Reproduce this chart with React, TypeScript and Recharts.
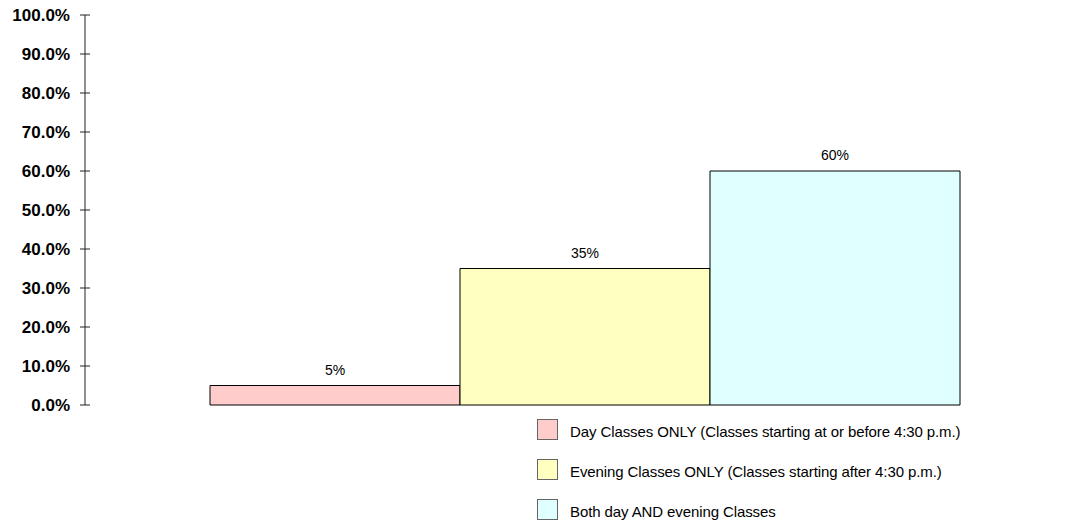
import { BarChart, Bar, XAxis, YAxis, LabelList } from "recharts";

const seriesKeys = ["day", "evening", "both"];
const seriesNames = [
  "Day Classes ONLY (Classes starting at or before 4:30 p.m.)",
  "Evening Classes ONLY (Classes starting after 4:30 p.m.)",
  "Both day AND evening Classes",
];
const seriesValues = [5, 35, 60];
const seriesColors = ["#ffcccc", "#ffffc0", "#e0ffff"];
const yTicks = [0, 10, 20, 30, 40, 50, 60, 70, 80, 90, 100];

const data = [
  seriesKeys.reduce<Record<string, number | string>>(
    (row, key, i) => {
      row[key] = seriesValues[i];
      return row;
    },
    { name: "" }
  ),
];

const font = "'Liberation Sans', Arial, sans-serif";

const YTick = (props: any) => {
  const { x, y, payload } = props;
  return (
    <g>
      <line x1={x + 10} y1={y} x2={x + 20} y2={y} stroke="#222" strokeWidth={1} />
      <text
        x={x}
        y={y}
        dy={6}
        textAnchor="end"
        fontFamily={font}
        fontSize={17}
        fontWeight="bold"
        fill="#000"
      >
        {`${payload.value.toFixed(1)}%`}
      </text>
    </g>
  );
};

const LegendBox = () => (
  <div
    style={{
      position: "absolute",
      left: 537,
      top: 409,
      fontFamily: font,
      fontSize: 15,
      color: "#000",
    }}
  >
    {seriesNames.map((name, i) => (
      <div key={name} style={{ display: "flex", alignItems: "center", height: 40 }}>
        <span
          style={{
            display: "inline-block",
            width: 19,
            height: 19,
            background: seriesColors[i],
            border: "1px solid #666",
            marginRight: 12,
          }}
        />
        <span style={{ position: "relative", top: 2, letterSpacing: -0.1 }}>{name}</span>
      </div>
    ))}
  </div>
);

export default function App() {
  return (
    <div
      style={{
        position: "absolute",
        left: 0,
        top: 0,
        width: 1074,
        height: 529,
        overflow: "hidden",
        background: "#fff",
      }}
    >
      <BarChart
        width={1100}
        height={529}
        data={data}
        margin={{ top: 15, right: 15, bottom: 124, left: 0 }}
        barCategoryGap="12.5%"
        barGap={0}
      >
        <XAxis
          dataKey="name"
          tick={false}
          tickLine={false}
          height={0}
          axisLine={{ stroke: "#777", strokeWidth: 2 }}
        />
        <YAxis
          width={85}
          domain={[0, 100]}
          ticks={yTicks}
          interval={0}
          tickSize={5}
          tickMargin={10}
          tickLine={false}
          axisLine={{ stroke: "#222" }}
          tick={<YTick />}
        />
        {seriesKeys.map((key, i) => (
          <Bar
            key={key}
            dataKey={key}
            name={seriesNames[i]}
            fill={seriesColors[i]}
            stroke="#000"
            strokeWidth={1}
            isAnimationActive={false}
          >
            <LabelList
              dataKey={key}
              position="top"
              offset={11}
              formatter={(v: any) => `${v}%`}
              style={{ fontFamily: font, fontSize: 14, fill: "#000" }}
            />
          </Bar>
        ))}
      </BarChart>
      <LegendBox />
    </div>
  );
}
